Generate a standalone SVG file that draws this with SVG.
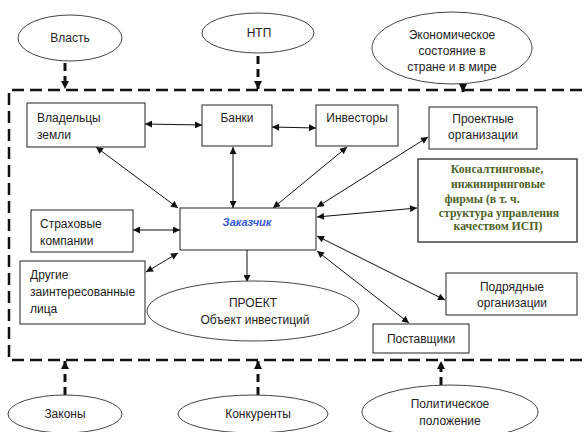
<svg xmlns="http://www.w3.org/2000/svg" width="586" height="432" viewBox="0 0 586 432">
<defs>
<style>
.t{font-family:"Liberation Sans","DejaVu Sans",sans-serif;font-size:12px;fill:#222}
.c{text-anchor:middle}
.box{fill:#fff;stroke:#222;stroke-width:1}
.ell{fill:#fff;stroke:#444;stroke-width:1}
.con{stroke:#111;stroke-width:1;fill:none}
.ext{stroke:#111;stroke-width:3;fill:none;stroke-dasharray:8 5}
.g{font-family:"Liberation Serif","DejaVu Serif",serif;font-size:11.8px;font-weight:bold;fill:#4f6228;text-anchor:middle}
</style>
<marker id="a" viewBox="0 0 10 10" refX="10" refY="5" markerWidth="9" markerHeight="7" markerUnits="userSpaceOnUse" orient="auto-start-reverse">
<path d="M0,0 L10,5 L0,10 z" fill="#111"/>
</marker>
<marker id="b" viewBox="0 0 10 10" refX="10" refY="5" markerWidth="10" markerHeight="8" markerUnits="userSpaceOnUse" orient="auto">
<path d="M0,0 L10,5 L0,10 z" fill="#111"/>
</marker>
</defs>
<rect width="586" height="432" fill="#fff"/>
<g id="boundary">
<path d="M600,90 H9 V360 H600" fill="none" stroke="#111" stroke-width="2.5" stroke-dasharray="12 6"/>
</g>
<g id="connectors">
<line class="con" x1="145" y1="124" x2="202" y2="125" marker-start="url(#a)" marker-end="url(#a)"/>
<line class="con" x1="272" y1="127" x2="316" y2="128" marker-start="url(#a)" marker-end="url(#a)"/>
<line class="con" x1="96" y1="147" x2="178" y2="208" marker-start="url(#a)" marker-end="url(#a)"/>
<line class="con" x1="233" y1="147" x2="233" y2="208" marker-start="url(#a)" marker-end="url(#a)"/>
<line class="con" x1="347" y1="147" x2="273" y2="208" marker-start="url(#a)" marker-end="url(#a)"/>
<line class="con" x1="428" y1="137" x2="317" y2="207" marker-start="url(#a)" marker-end="url(#a)"/>
<line class="con" x1="417" y1="208" x2="317" y2="217" marker-start="url(#a)" marker-end="url(#a)"/>
<line class="con" x1="317" y1="236" x2="445" y2="300" marker-start="url(#a)" marker-end="url(#a)"/>
<line class="con" x1="317" y1="251" x2="409" y2="323" marker-start="url(#a)" marker-end="url(#a)"/>
<line class="con" x1="133" y1="230" x2="180" y2="230" marker-start="url(#a)" marker-end="url(#a)"/>
<line class="con" x1="146" y1="272" x2="178" y2="253" marker-start="url(#a)" marker-end="url(#a)"/>
<line class="con" x1="247" y1="250" x2="247" y2="282" marker-end="url(#a)"/>
<line class="ext" x1="65" y1="63" x2="65" y2="89" marker-end="url(#b)"/>
<line class="ext" x1="258" y1="56" x2="258" y2="89" marker-end="url(#b)"/>
<line class="ext" x1="463" y1="84" x2="463" y2="92" stroke-dasharray="none" marker-end="url(#b)"/>
<line class="ext" x1="65" y1="395" x2="65" y2="361" marker-end="url(#b)"/>
<line class="ext" x1="258" y1="395" x2="258" y2="361" marker-end="url(#b)"/>
<line class="ext" x1="441" y1="385" x2="441" y2="361" marker-end="url(#b)"/>
</g>
<g id="vlast"><ellipse class="ell" cx="70" cy="38" rx="52" ry="23"/><text class="t c" x="70" y="42">Власть</text></g>
<g id="ntp"><ellipse class="ell" cx="258" cy="33" rx="56" ry="20"/><text class="t c" x="259" y="37">НТП</text></g>
<g id="econ"><ellipse class="ell" cx="452" cy="48" rx="80" ry="36"/>
<text class="t c" x="452" y="39">Экономическое</text><text class="t c" x="452" y="55">состояние в</text><text class="t c" x="452" y="71">стране и в мире</text></g>
<g id="zakony"><ellipse class="ell" cx="65" cy="414" rx="57" ry="19"/><text class="t c" x="65" y="418">Законы</text></g>
<g id="konk"><ellipse class="ell" cx="253" cy="414" rx="75" ry="19"/><text class="t c" x="258" y="418">Конкуренты</text></g>
<g id="polit"><ellipse class="ell" cx="450" cy="412" rx="88" ry="27"/><text class="t c" x="450" y="408">Политическое</text><text class="t c" x="450" y="425">положение</text></g>
<g id="vladeltsy"><rect class="box" x="27" y="103" width="118" height="44"/><text class="t" x="37" y="122">Владельцы</text><text class="t" x="37" y="139">земли</text></g>
<g id="banki"><rect class="box" x="202" y="105" width="70" height="41"/><text class="t c" x="237" y="122">Банки</text></g>
<g id="investory"><rect class="box" x="316" y="105" width="82" height="41"/><text class="t c" x="357" y="122">Инвесторы</text></g>
<g id="proekt-org"><rect class="box" x="429" y="107" width="108" height="42"/><text class="t c" x="483" y="123">Проектные</text><text class="t c" x="483" y="139">организации</text></g>
<g id="konsalt"><rect x="418" y="159" width="159" height="83" fill="#fff" stroke="#444" stroke-width="1.5"/>
<text class="g" x="497" y="173">Консалтинговые,</text>
<text class="g" x="498" y="188">инжиниринговые</text>
<text class="g" x="482" y="203">фирмы (в т. ч.</text>
<text class="g" x="499" y="217">структура управления</text>
<text class="g" x="498" y="230">качеством ИСП)</text></g>
<g id="zakazchik"><rect class="box" x="180" y="208" width="136" height="42"/><text x="247" y="226" text-anchor="middle" font-family="Liberation Sans,sans-serif" font-size="11" font-weight="bold" font-style="italic" fill="#3558d0">Заказчик</text></g>
<g id="strakh"><rect class="box" x="31" y="210" width="102" height="42"/><text class="t" x="40" y="228">Страховые</text><text class="t" x="40" y="245">компании</text></g>
<g id="drugie"><rect class="box" x="20" y="261" width="125" height="63"/><text class="t" x="30" y="279">Другие</text><text class="t" x="30" y="296">заинтересованные</text><text class="t" x="30" y="313">лица</text></g>
<g id="proekt"><ellipse class="ell" cx="253" cy="311" rx="106" ry="30"/><text class="t c" x="253" y="307">ПРОЕКТ</text><text class="t c" x="255" y="324">Объект инвестиций</text></g>
<g id="podryad"><rect class="box" x="446" y="273" width="131" height="42"/><text class="t c" x="512" y="291">Подрядные</text><text class="t c" x="512" y="307">организации</text></g>
<g id="postav"><rect class="box" x="373" y="324" width="96" height="29"/><text class="t c" x="421" y="343">Поставщики</text></g>
</svg>
